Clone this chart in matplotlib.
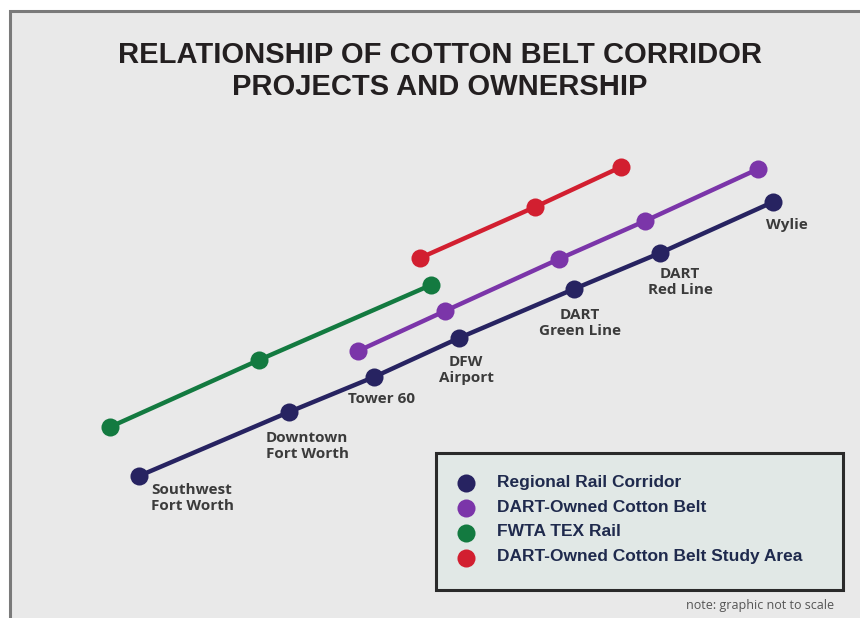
import matplotlib
matplotlib.use("Agg")
import matplotlib.pyplot as plt
from matplotlib.patches import Rectangle

# ---- data (positions read from the schematic, pixel-like units) ----
series_names = ["Regional Rail Corridor", "DART-Owned Cotton Belt",
                "FWTA TEX Rail", "DART-Owned Cotton Belt Study Area"]
series_colors = ["#272361", "#7b35a9", "#137a40", "#d21f30"]

rail_x = [139, 289, 374, 459, 574, 660, 773]
rail_y = [476, 412, 377, 338, 289, 253, 202]
dart_x = [358, 445, 559, 645, 758]
dart_y = [351, 311, 259, 221, 169]
tex_x = [110, 259, 431]
tex_y = [427, 360, 285]
study_x = [420, 535, 621]
study_y = [258, 207, 167]

station_labels = ["Southwest\nFort Worth", "Downtown\nFort Worth", "Tower 60",
                  "DFW\nAirport", "DART\nGreen Line", "DART\nRed Line", "Wylie"]

W, H = 860, 618
fig = plt.figure(figsize=(W / 100, H / 100), dpi=100)
fig.patch.set_facecolor("white")
ax = fig.add_axes([0, 0, 1, 1])
ax.set_xlim(0, W)
ax.set_ylim(H, 0)
ax.axis("off")

# background panel with frame
ax.add_patch(Rectangle((10, 11), W + 20, H + 20, facecolor="#e9e9e9",
                       edgecolor="#7a7a7a", lw=2.2, zorder=0))

# title
ax.text(440, 71, "RELATIONSHIP OF COTTON BELT CORRIDOR\nPROJECTS AND OWNERSHIP",
        ha="center", va="center", fontsize=21, fontweight="bold",
        family="Liberation Sans", color="#231f20",
        linespacing=1.22)

series = [(rail_x, rail_y), (dart_x, dart_y), (tex_x, tex_y), (study_x, study_y)]
for (xs, ys), c in zip(series, series_colors):
    ax.plot(xs, ys, color=c, lw=3.2, marker="o", markersize=13,
            markeredgewidth=0, zorder=3, solid_capstyle="round")

# station labels
lab_col = "#3b3b3b"
offsets = [(12, 22, "left"), (18, 34, "center"), (8, 22, "center"),
           (7, 32, "center"), (6, 34, "center"), (20, 29, "center"),
           (14, 23, "center")]
for x, y, t, (dx, dy, ha) in zip(rail_x, rail_y, station_labels, offsets):
    ax.text(x + dx, y + dy, t, ha=ha, va="center", fontsize=11,
            fontweight="bold", color=lab_col, family="Open Sans",
            linespacing=1.2, zorder=4)

# legend box
ax.add_patch(Rectangle((436, 453), 407, 137, facecolor="#e1e8e6",
                       edgecolor="#2a2a2a", lw=2.2, zorder=2))
for i, (name, c) in enumerate(zip(series_names, series_colors)):
    yy = 483 + 25 * i
    ax.plot([466], [yy], marker="o", markersize=13, color=c,
            markeredgewidth=0, zorder=3)
    ax.text(497, yy - 1, name, ha="left", va="center", fontsize=12.5,
            fontweight="bold", color="#1f2a4d", family="Liberation Sans",
            zorder=4)

ax.text(834, 606, "note: graphic not to scale", ha="right", va="center",
        fontsize=9, color="#555555", family="Open Sans")

fig.savefig("out.png", dpi=100, facecolor=fig.get_facecolor())
